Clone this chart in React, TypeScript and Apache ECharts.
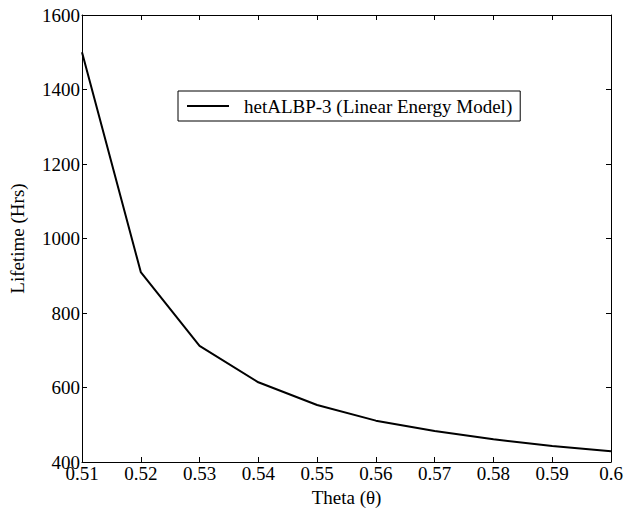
import React, { useEffect, useRef } from "react";
import * as echarts from "echarts";

const theta: number[] = [0.51, 0.52, 0.53, 0.54, 0.55, 0.56, 0.57, 0.58, 0.59, 0.6];
const lifetime: number[] = [1500, 910, 712, 614, 553, 511, 483, 461, 443, 429];
const seriesName = "hetALBP-3 (Linear Energy Model)";
const xTitle = "Theta (\u03b8)";
const yTitle = "Lifetime (Hrs)";

const FONT = "'Liberation Serif', 'Times New Roman', serif";

export default function App() {
  const ref = useRef<HTMLDivElement>(null);
  useEffect(() => {
    if (!ref.current) return;
    const chart = echarts.init(ref.current, null, { renderer: "svg" });
    const fmtX = (v: number) => String(+v.toFixed(2));
    const fmtY = (v: number) => String(Math.round(v));
    const common = {
      axisLine: { show: true, lineStyle: { color: "#000", width: 1 } },
      axisTick: { show: true, inside: true, length: 5, lineStyle: { color: "#000" } },
      splitLine: { show: false },
    };
    chart.setOption({
      animation: false,
      backgroundColor: "#fff",
      textStyle: { fontFamily: FONT, color: "#000" },
      grid: { left: 82, right: 16, top: 15, bottom: 55, containLabel: false },
      legend: {
        left: 178,
        top: 91,
        orient: "vertical",
        data: [seriesName],
        icon: "rect",
        borderColor: "#000",
        borderWidth: 1,
        padding: [5, 8, 5, 9],
        itemWidth: 42,
        itemHeight: 2,
        itemStyle: { color: "#000" },
        textStyle: { fontFamily: FONT, fontSize: 19, color: "#000", padding: [0, 0, 0, 10], lineHeight: 20 },
        backgroundColor: "#fff",
      },
      xAxis: [
        {
          type: "value",
          min: 0.51,
          max: 0.6,
          interval: 0.01,
          position: "bottom",
          ...common,
          axisLabel: { formatter: fmtX, fontFamily: FONT, fontSize: 19, color: "#000", margin: 2 },
          name: xTitle,
          nameLocation: "middle",
          nameGap: 25,
          nameTextStyle: { fontFamily: FONT, fontSize: 19, color: "#000" },
        },
        {
          type: "value",
          min: 0.51,
          max: 0.6,
          interval: 0.01,
          position: "top",
          ...common,
          axisLabel: { show: false },
        },
      ],
      yAxis: [
        {
          type: "value",
          min: 400,
          max: 1600,
          interval: 200,
          position: "left",
          ...common,
          axisLabel: { formatter: fmtY, fontFamily: FONT, fontSize: 19, color: "#000", margin: 2 },
          name: yTitle,
          nameLocation: "middle",
          nameGap: 55,
          nameTextStyle: { fontFamily: FONT, fontSize: 19, color: "#000" },
        },
        {
          type: "value",
          min: 400,
          max: 1600,
          interval: 200,
          position: "right",
          ...common,
          axisLabel: { show: false },
        },
      ],
      series: [
        {
          name: seriesName,
          type: "line",
          data: theta.map((t, i) => [t, lifetime[i]]),
          symbol: "none",
          lineStyle: { color: "#000", width: 2 },
          itemStyle: { color: "#000" },
        },
      ],
    });
    return () => chart.dispose();
  }, []);
  return <div ref={ref} style={{ width: 627, height: 517, position: "absolute", left: 0, top: 0 }} />;
}
